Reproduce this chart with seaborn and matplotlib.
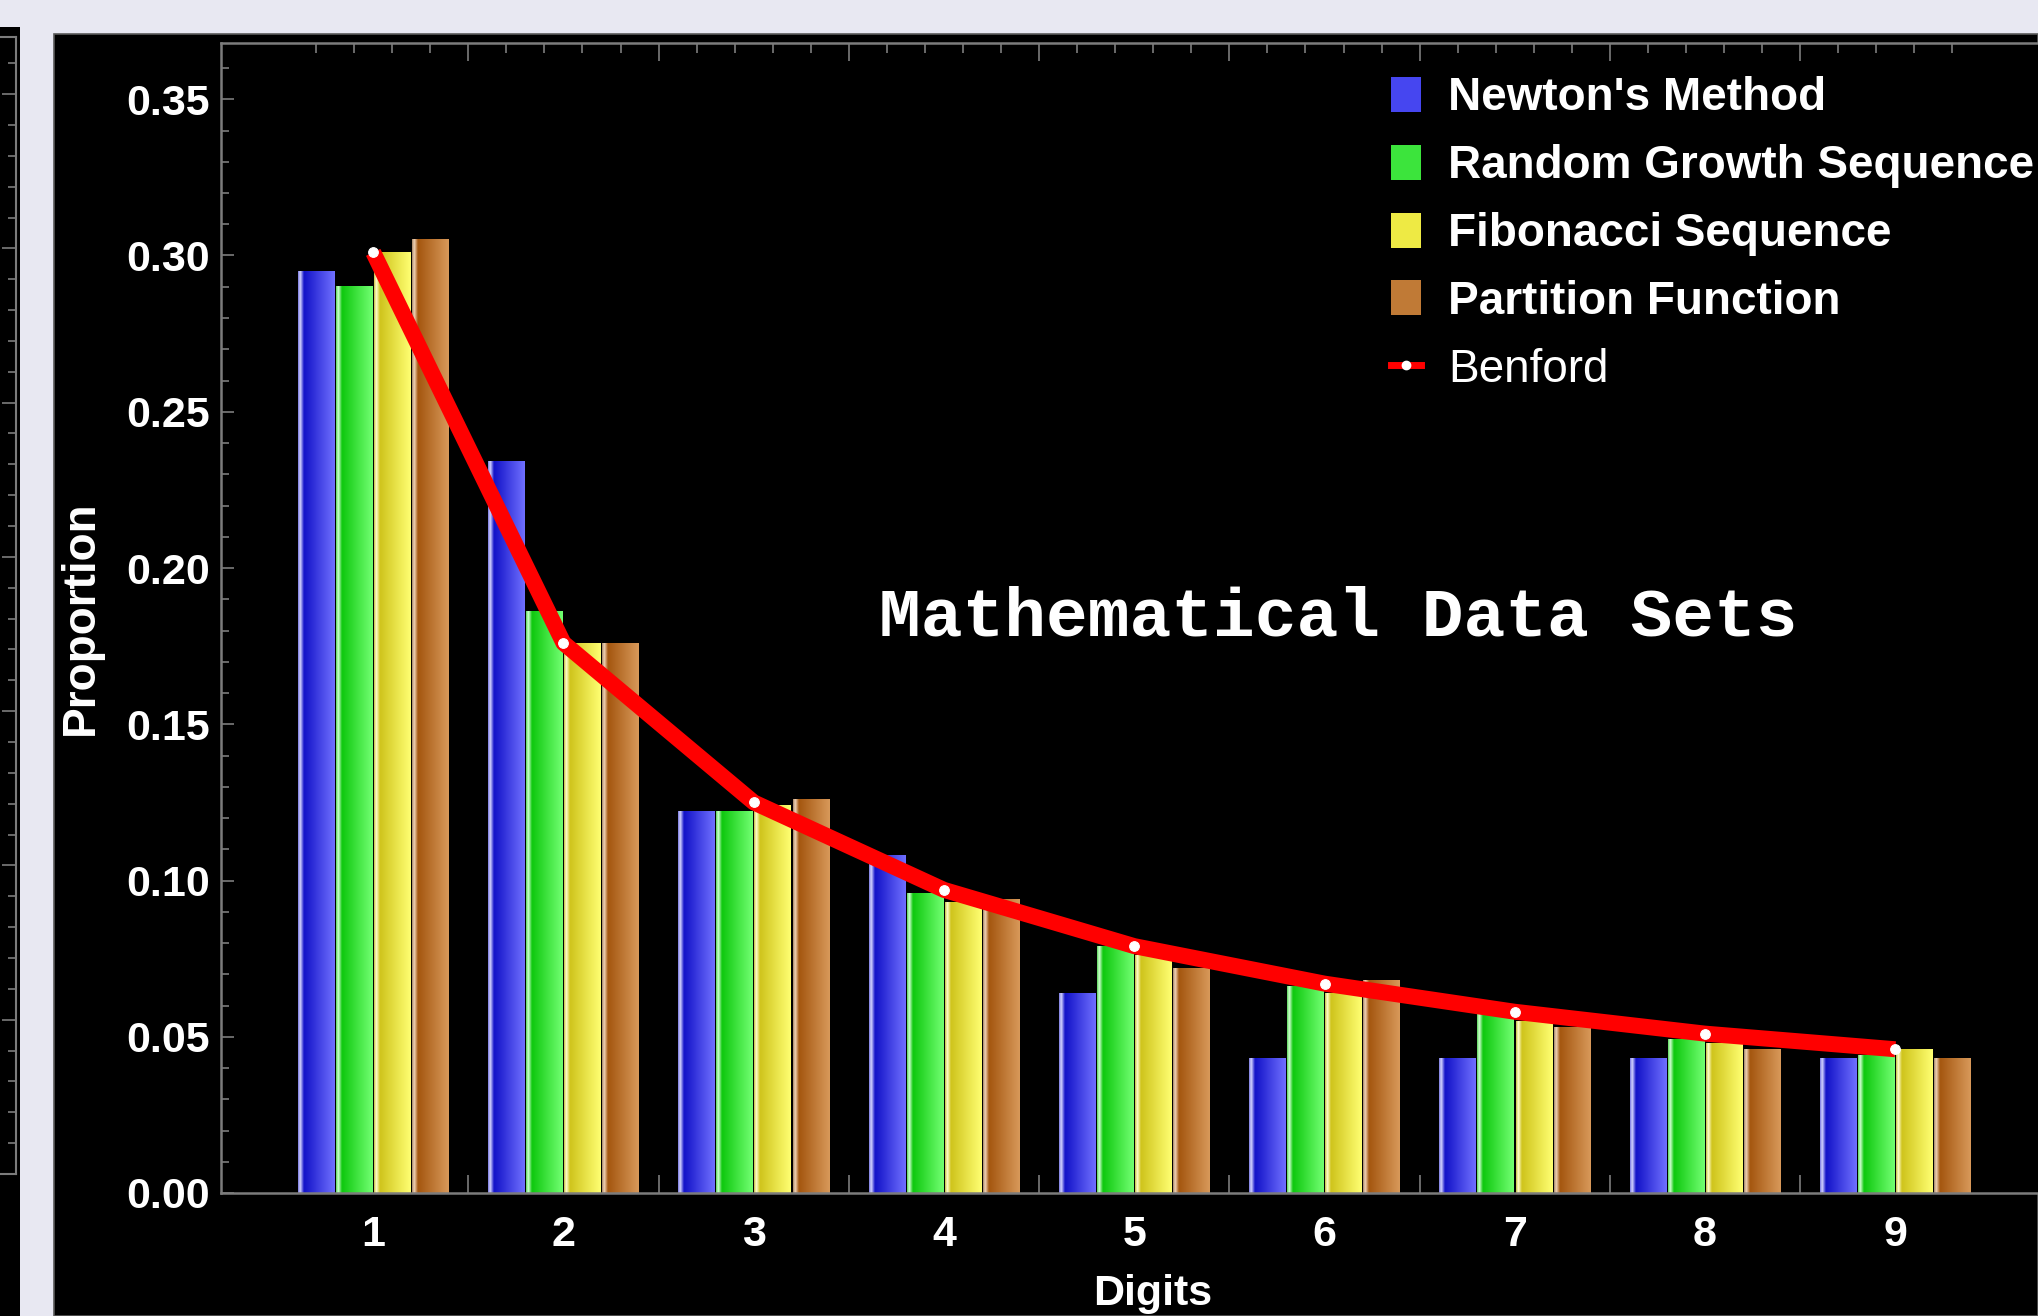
import matplotlib
matplotlib.use("Agg")
import matplotlib.pyplot as plt
import numpy as np
import pandas as pd
import seaborn as sns
from matplotlib.colors import LinearSegmentedColormap
from matplotlib.patches import Patch, Rectangle
from matplotlib.lines import Line2D
from matplotlib.ticker import MultipleLocator, FormatStrFormatter

# data
digits = [1, 2, 3, 4, 5, 6, 7, 8, 9]
series = ["Newton's Method", "Random Growth Sequence", "Fibonacci Sequence", "Partition Function"]
newton = [0.295, 0.234, 0.122, 0.108, 0.064, 0.043, 0.043, 0.043, 0.043]
growth = [0.290, 0.186, 0.122, 0.096, 0.079, 0.066, 0.057, 0.049, 0.044]
fibonacci = [0.301, 0.176, 0.124, 0.093, 0.076, 0.064, 0.055, 0.048, 0.046]
partition = [0.305, 0.176, 0.126, 0.094, 0.072, 0.068, 0.053, 0.046, 0.043]
benford = [0.301, 0.176, 0.125, 0.097, 0.079, 0.067, 0.058, 0.051, 0.046]

df = pd.DataFrame({
    "Digit": digits * 4,
    "Proportion": newton + growth + fibonacci + partition,
    "Series": [s for s in series for _ in digits],
})

# (edge, highlight, dark, bright) for the shaded bars
shades = [
    ("#7a7ae0", "#d4d4ff", "#1212c8", "#7070ff"),
    ("#5ad85a", "#d4ffd4", "#0ec80e", "#72ff72"),
    ("#c8c040", "#ffffd4", "#cfc41c", "#ffff72"),
    ("#a88868", "#f0d4b8", "#a4560f", "#d8995a"),
]
flat = ["#4646f0", "#3ce43c", "#eeea44", "#c07a36"]
cmaps = [LinearSegmentedColormap.from_list(
    "c%d" % i, [(0.0, e), (0.06, h), (0.16, d), (1.0, b)])
    for i, (e, h, d, b) in enumerate(shades)]

grey = "#7c7c7c"
fig = plt.figure(figsize=(20.38, 13.16), dpi=100, facecolor="#e8e8f2")
W, H = 2038.0, 1316.0

# black panels (main one + the clipped neighbour on the left)
fig.patches.append(Rectangle((0, 0), 20 / W, 1 - 27 / H, transform=fig.transFigure,
                             facecolor="black", edgecolor="none", zorder=-10))
fig.patches.append(Rectangle((54 / W, 0), 1 - 54 / W, 1 - 34 / H, transform=fig.transFigure,
                             facecolor="black", edgecolor="#5a5a5a", lw=1.2, zorder=-10))

side = fig.add_axes([0, 1 - 1174 / H, 16 / W, (1174 - 37) / H])
side.set_facecolor("none")
side.set_ylim(0, 36.85)
side.set_xticks([])
side.yaxis.set_major_locator(MultipleLocator(5))
side.yaxis.set_minor_locator(MultipleLocator(1))
side.tick_params(axis="y", which="both", left=False, right=True, labelleft=False,
                 direction="in", color=grey)
side.tick_params(axis="y", which="major", length=10, width=1.2)
side.tick_params(axis="y", which="minor", length=6, width=1.2)
side.spines["left"].set_visible(False)
for s in ["right", "top", "bottom"]:
    side.spines[s].set_color(grey)
    side.spines[s].set_linewidth(1.5)

ax = fig.add_axes([221 / W, 1 - 1193 / H, 1 - 221 / W, (1193 - 43) / H])
ax.set_facecolor("black")

sns.barplot(data=df, x="Digit", y="Proportion", hue="Series", hue_order=series,
            palette=flat, native_scale=True, width=0.8, gap=0.04, saturation=1,
            errorbar=None, legend=False, ax=ax)

# replace the flat bars by the shaded cylinder look
grad = np.linspace(0, 1, 128).reshape(1, -1)
bar_centres = []
for cont, cm in zip(ax.containers, cmaps):
    for bar in cont:
        x0, w, h = bar.get_x(), bar.get_width(), bar.get_height()
        ax.imshow(grad, extent=[x0, x0 + w, 0, h], cmap=cm, aspect="auto",
                  interpolation="bilinear", zorder=2)
        bar.set_visible(False)
        bar_centres.append(x0 + w / 2)

sns.lineplot(x=digits, y=benford, color="red", lw=11.5, marker="o", markersize=7,
             markerfacecolor="white", markeredgecolor="white", ax=ax, zorder=4,
             legend=False)
ax.lines[-1].set_solid_capstyle("butt")
ax.lines[-1].set_solid_joinstyle("round")

ax.set_xlim(0.2, 9.75)
ax.set_ylim(0, 0.368)

# axis ticks: long marks between groups, short ones under each bar
ax.set_xticks([d + 0.5 for d in digits[:-1]])
ax.set_xticks(bar_centres, minor=True)
ax.tick_params(axis="x", which="both", top=True, bottom=True, labelbottom=False,
               direction="in", color=grey, width=1.2)
ax.tick_params(axis="x", which="major", length=13)
ax.tick_params(axis="x", which="minor", length=7)

lab = ax.secondary_xaxis("bottom")
lab.set_xticks(digits)
lab.tick_params(length=0, pad=16, labelcolor="white", labelsize=31)
lab.spines["bottom"].set_visible(False)
for t in lab.get_xticklabels():
    t.set_fontfamily("Liberation Sans")
    t.set_fontweight("bold")

ax.yaxis.set_major_locator(MultipleLocator(0.05))
ax.yaxis.set_minor_locator(MultipleLocator(0.01))
ax.yaxis.set_major_formatter(FormatStrFormatter("%.2f"))
ax.tick_params(axis="y", which="both", direction="in", color=grey, width=1.2,
               labelcolor="white", labelsize=31, pad=8)
ax.tick_params(axis="y", which="major", length=9)
ax.tick_params(axis="y", which="minor", length=6)
for t in ax.get_yticklabels():
    t.set_fontfamily("Liberation Sans")
    t.set_fontweight("bold")

for s in ["left", "top", "bottom"]:
    ax.spines[s].set_color(grey)
    ax.spines[s].set_linewidth(1.8)
ax.spines["right"].set_visible(False)

ax.set_ylabel("Proportion", color="white", fontsize=33, fontweight="bold",
              fontfamily="Liberation Sans")
ax.yaxis.label.set_va("center")
ax.yaxis.set_label_coords(-0.077, 0.5)
ax.set_xlabel("Digits", color="white", fontsize=31, fontweight="bold",
              fontfamily="Liberation Sans")
ax.xaxis.label.set_va("center")
ax.xaxis.set_label_coords(0.513, -0.088)

ax.text(6.07, 0.184, "Mathematical Data Sets", color="white", fontsize=50,
        fontfamily="Liberation Mono", fontweight="bold", ha="center", va="center")

handles = [Patch(facecolor=c, edgecolor="none") for c in flat]
handles.append(Line2D([], [], color="red", lw=5, marker="o", markersize=6,
                      markerfacecolor="white", markeredgecolor="white"))
leg = ax.legend(handles, series + ["Benford"], loc="upper left",
                bbox_to_anchor=(0.644, 0.971), frameon=False, labelcolor="white",
                prop={"family": "Liberation Sans", "weight": "bold", "size": 33},
                handlelength=0.65, handleheight=0.8, handletextpad=0.6,
                labelspacing=0.52, borderpad=0, borderaxespad=0)
leg.get_texts()[-1].set_fontweight("normal")

fig.savefig("out.png", dpi=100, facecolor=fig.get_facecolor())
